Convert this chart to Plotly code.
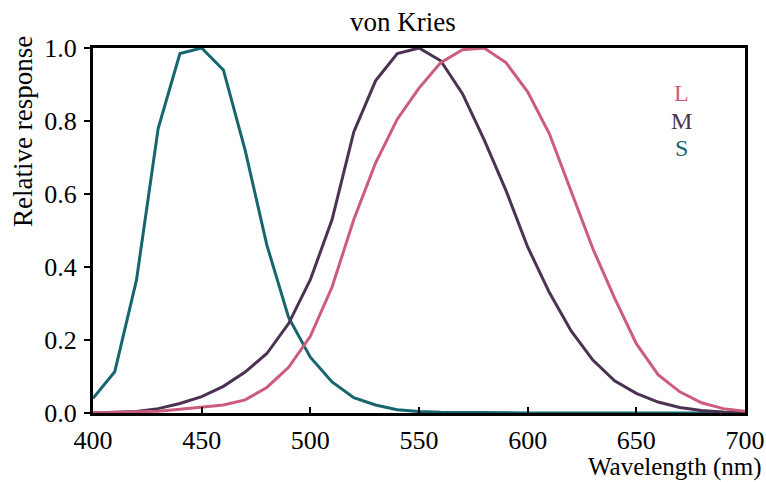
import plotly.graph_objects as go

wavelength = list(range(400, 701, 10))
S = [0.04, 0.113, 0.364, 0.78, 0.985, 1.0, 0.94, 0.72, 0.46, 0.262, 0.153,
     0.085, 0.042, 0.022, 0.009, 0.004, 0.002, 0.001, 0.0, 0.0, 0.0,
     0.0, 0.0, 0.0, 0.0, 0.0, 0.0, 0.0, 0.0, 0.0, 0.0]
M = [0.0, 0.001, 0.004, 0.012, 0.026, 0.045, 0.073, 0.112, 0.163, 0.245, 0.365,
     0.53, 0.77, 0.91, 0.985, 1.0, 0.965, 0.875, 0.748, 0.61, 0.455,
     0.33, 0.225, 0.145, 0.088, 0.054, 0.03, 0.015, 0.007, 0.003, 0.001]
L = [0.0, 0.001, 0.002, 0.005, 0.01, 0.016, 0.022, 0.036, 0.07, 0.125, 0.21,
     0.345, 0.53, 0.685, 0.805, 0.89, 0.96, 0.995, 1.0, 0.96, 0.88,
     0.765, 0.61, 0.45, 0.315, 0.19, 0.105, 0.058, 0.028, 0.012, 0.005]

x_ticks = [400, 450, 500, 550, 600, 650, 700]
y_ticks = [0.0, 0.2, 0.4, 0.6, 0.8, 1.0]

c_S = "#17666e"
c_M = "#4b3252"
c_L = "#cc5c7c"

FONT = "Liberation Serif, 'Times New Roman', Times, serif"
FS = 27
TFS = 26

fig = go.Figure()
for name, ys, col in [("S", S, c_S), ("M", M, c_M), ("L", L, c_L)]:
    fig.add_trace(go.Scatter(x=wavelength, y=ys, mode="lines", name=name,
                             line=dict(color=col, width=3), showlegend=False))

fig.update_layout(
    width=766, height=482,
    margin=dict(l=93, r=21, t=48, b=69, autoexpand=False),
    paper_bgcolor="white", plot_bgcolor="white",
    font=dict(family=FONT, size=FS, color="black"),
)

fig.update_xaxes(range=[400, 700], tickvals=x_ticks, ticktext=[str(v) for v in x_ticks],
                 showgrid=False, zeroline=False, showline=True, linecolor="black",
                 linewidth=3, mirror=True, ticks="inside", ticklen=6, tickwidth=2,
                 tickcolor="black", ticklabelstandoff=2,
                 tickfont=dict(family=FONT, size=TFS), automargin=False)
fig.update_yaxes(range=[0, 1.0], tickvals=y_ticks, ticktext=[f"{v:.1f}" for v in y_ticks],
                 showgrid=False, zeroline=False, showline=True, linecolor="black",
                 linewidth=3, mirror=True, ticks="outside", ticklen=6, tickwidth=2,
                 tickcolor="black", ticklabelstandoff=2,
                 tickfont=dict(family=FONT, size=TFS), automargin=False)

fig.add_annotation(text="von Kries", xref="paper", yref="paper",
                   x=(403 - 93) / 652, y=(413 - 22) / 365, xanchor="center", yanchor="middle",
                   showarrow=False, font=dict(family=FONT, size=FS))
fig.add_annotation(text="Relative response", textangle=-90, xref="paper", yref="paper",
                   x=(23 - 93) / 652, y=(413 - 132) / 365, xanchor="center", yanchor="middle",
                   showarrow=False, font=dict(family=FONT, size=FS))
fig.add_annotation(text="Wavelength (nm)", xref="paper", yref="paper",
                   x=(764 - 93) / 652, y=(413 - 466.5) / 365, xanchor="right", yanchor="middle",
                   showarrow=False, font=dict(family=FONT, size=25))

for i, (lab, col) in enumerate([("L", c_L), ("M", c_M), ("S", c_S)]):
    fig.add_annotation(text=lab, xref="paper", yref="paper",
                       x=(681 - 93) / 652, y=(413 - (93 + 27.5 * i)) / 365,
                       xanchor="center", yanchor="middle", showarrow=False,
                       font=dict(family=FONT, size=24, color=col))

fig.write_html("out.html")
